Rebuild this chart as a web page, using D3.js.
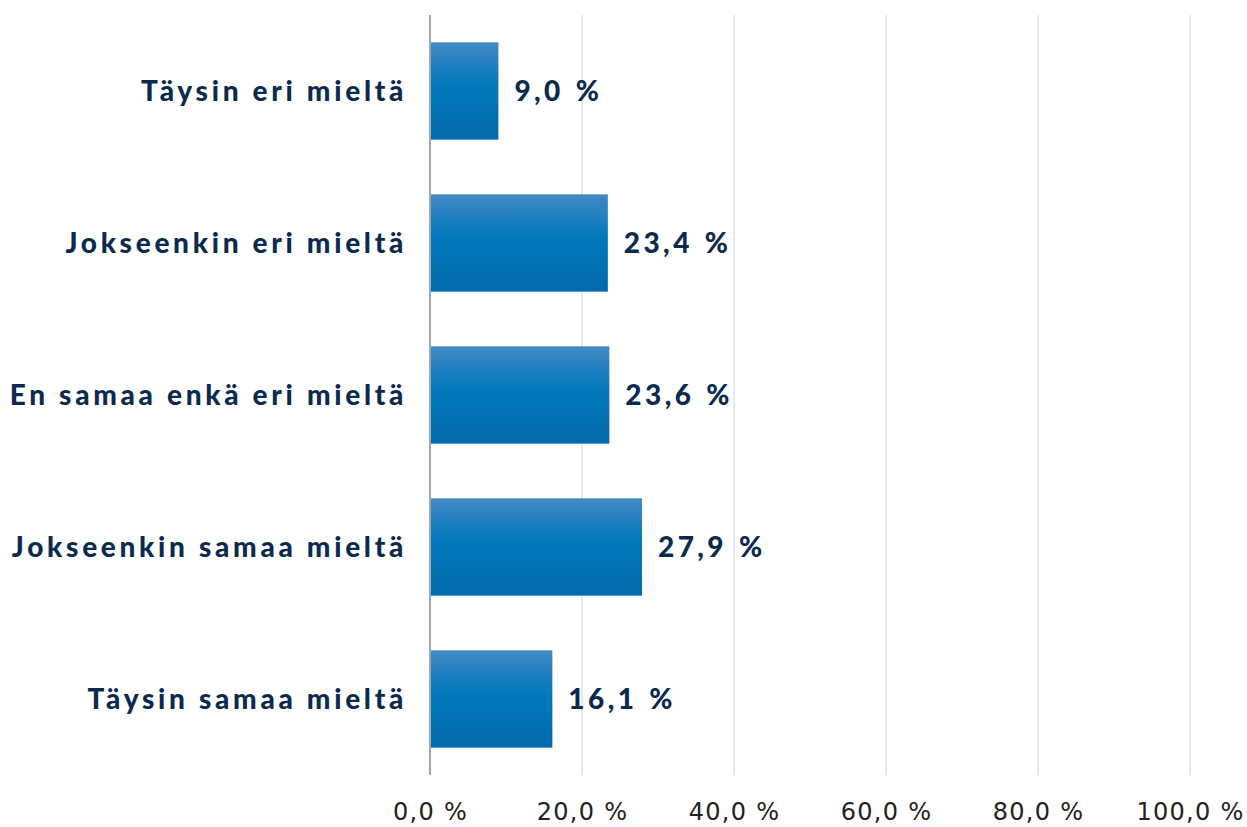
<!DOCTYPE html>
<html>
<head>
<meta charset="utf-8">
<script src="https://cdn.jsdelivr.net/npm/d3@7"></script>
<style>
  body { margin: 0; background: #fff; }
  .cat { font-family: Lato, "Noto Sans", sans-serif; font-weight: 900; font-size: 28px; fill: #0b2a4d; letter-spacing: 3.7px; }
  .val { font-family: Lato, "Noto Sans", sans-serif; font-weight: 900; font-size: 28px; fill: #0b2a4d; letter-spacing: 3.4px; word-spacing: 2px; }
  .tick text { font-family: "DejaVu Sans", sans-serif; font-size: 24px; fill: #222; letter-spacing: 1.3px; }
</style>
</head>
<body>
<script>
// values
var categories = ["Täysin eri mieltä", "Jokseenkin eri mieltä", "En samaa enkä eri mieltä", "Jokseenkin samaa mieltä", "Täysin samaa mieltä"];
var values = [9.0, 23.4, 23.6, 27.9, 16.1];
var ticks = [0, 20, 40, 60, 80, 100];

var W = 1247, H = 827;
var svg = d3.select("body").append("svg").attr("width", W).attr("height", H);

var x = d3.scaleLinear().domain([0, 100]).range([430, 1190]);
var y = d3.scaleBand().domain(categories).range([15, 775]).paddingInner(0.36).paddingOuter(0.18);

var fmt = function(v) { return d3.format(".1f")(v).replace(".", ",") + " %"; };

var grad = svg.append("defs").append("linearGradient")
    .attr("id", "barGrad").attr("x1", 0).attr("y1", 0).attr("x2", 0).attr("y2", 1);
grad.append("stop").attr("offset", "0%").attr("stop-color", "#4489c3");
grad.append("stop").attr("offset", "45%").attr("stop-color", "#0078bb");
grad.append("stop").attr("offset", "100%").attr("stop-color", "#006aab");

// grid lines
svg.append("g").selectAll("line")
    .data(ticks.slice(1))
    .enter().append("line")
    .attr("x1", function(d) { return x(d); })
    .attr("x2", function(d) { return x(d); })
    .attr("y1", 15).attr("y2", 775)
    .attr("stroke", "#d9e6f2").attr("stroke-width", 1.5);

// x axis tick labels
var xAxis = svg.append("g")
    .attr("transform", "translate(0,775)")
    .call(d3.axisBottom(x).tickValues(ticks).tickFormat(fmt).tickSize(0).tickPadding(28));
xAxis.select(".domain").remove();
xAxis.selectAll(".tick text").attr("dy", "0.71em");

// bars
svg.append("g").selectAll("rect")
    .data(values)
    .enter().append("rect")
    .attr("x", x(0))
    .attr("y", function(d, i) { return y(categories[i]); })
    .attr("width", function(d) { return x(d) - x(0); })
    .attr("height", y.bandwidth())
    .attr("fill", "url(#barGrad)");

// value labels
svg.append("g").selectAll("text")
    .data(values)
    .enter().append("text")
    .attr("class", "val")
    .attr("x", function(d) { return x(d) + 16; })
    .attr("y", function(d, i) { return y(categories[i]) + y.bandwidth() / 2; })
    .attr("dy", "0.35em")
    .text(fmt);

// category labels
svg.append("g").selectAll("text")
    .data(categories)
    .enter().append("text")
    .attr("class", "cat")
    .attr("x", 407)
    .attr("y", function(d) { return y(d) + y.bandwidth() / 2; })
    .attr("dy", "0.35em")
    .attr("text-anchor", "end")
    .text(function(d) { return d; });

// vertical axis line
svg.append("line")
    .attr("x1", x(0)).attr("x2", x(0))
    .attr("y1", 15).attr("y2", 775)
    .attr("stroke", "#a6a6a6").attr("stroke-width", 2);
</script>
</body>
</html>
